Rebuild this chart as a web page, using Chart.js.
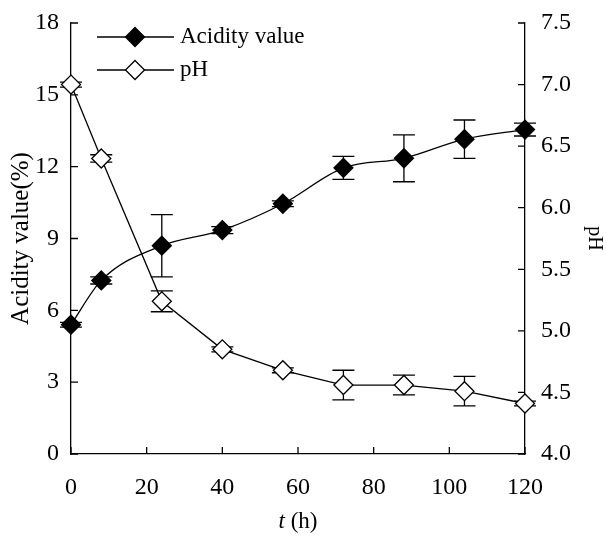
<!DOCTYPE html>
<html>
<head>
<meta charset="utf-8">
<script src="https://cdn.jsdelivr.net/npm/chart.js@4.4.0/dist/chart.umd.min.js"></script>
<style>
html, body { margin: 0; padding: 0; background: #fff; }
#wrap { width: 606px; height: 537px; }
</style>
</head>
<body>
<div id="wrap"><canvas id="chart"></canvas></div>
<script>
// acidity value and pH during fermentation

var hours      = [0, 8, 24, 40, 56, 72, 88, 104, 120];
var acidity    = [5.4, 7.25, 8.7, 9.35, 10.45, 11.95, 12.35, 13.15, 13.55];
var acidityErr = [0.1, 0.15, 1.3, 0.15, 0.12, 0.48, 0.98, 0.8, 0.27];
var ph         = [7.0, 6.4, 5.24, 4.85, 4.68, 4.56, 4.56, 4.51, 4.41];
var phErr      = [0.02, 0.03, 0.085, 0.02, 0.02, 0.12, 0.08, 0.12, 0.02];

var xTicks     = [0, 20, 40, 60, 80, 100, 120];
var leftTicks  = [0, 3, 6, 9, 12, 15, 18];
var rightTicks = [4.0, 4.5, 5.0, 5.5, 6.0, 6.5, 7.0, 7.5];

var FONT = '"Liberation Serif", "Times New Roman", serif';

function pts(ys) {
    return hours.map(function (h, i) { return { x: h, y: ys[i] }; });
}

// fixed axis sizes, no automatic label padding
function fixSize(w, h) {
    return function (s) {
        if (w) s.width = w;
        if (h) s.height = h;
        s.paddingTop = 0; s.paddingBottom = 0;
        s.paddingLeft = 0; s.paddingRight = 0;
    };
}

// ── error bars, drawn under the markers ───────────────────────────────────
var errorBars = {
    id: 'errorBars',
    beforeDatasetsDraw: function (chart) {
        var ctx = chart.ctx;
        var xs = chart.scales.x;
        var sets = [[acidity, acidityErr, chart.scales.y], [ph, phErr, chart.scales.y1]];
        ctx.save();
        ctx.strokeStyle = '#000';
        ctx.lineWidth = 1.3;
        sets.forEach(function (s) {
            hours.forEach(function (h, i) {
                var px = xs.getPixelForValue(h);
                var top = s[2].getPixelForValue(s[0][i] + s[1][i]);
                var bot = s[2].getPixelForValue(s[0][i] - s[1][i]);
                ctx.beginPath();
                ctx.moveTo(px, top); ctx.lineTo(px, bot);
                ctx.moveTo(px - 11, top); ctx.lineTo(px + 11, top);
                ctx.moveTo(px - 11, bot); ctx.lineTo(px + 11, bot);
                ctx.stroke();
            });
        });
        ctx.restore();
    }
};

// ── inward tick marks, legend and x title ─────────────────────────────────
var extras = {
    id: 'extras',
    afterDraw: function (chart) {
        var ctx = chart.ctx;
        var a = chart.chartArea;
        ctx.save();
        ctx.strokeStyle = '#000';
        ctx.lineWidth = 1.3;
        ctx.beginPath();
        xTicks.forEach(function (v) {
            var p = chart.scales.x.getPixelForValue(v);
            ctx.moveTo(p, a.bottom); ctx.lineTo(p, a.bottom - 7);
        });
        leftTicks.forEach(function (v) {
            var p = chart.scales.y.getPixelForValue(v);
            ctx.moveTo(a.left, p); ctx.lineTo(a.left + 7, p);
        });
        rightTicks.forEach(function (v) {
            var p = chart.scales.y1.getPixelForValue(v);
            ctx.moveTo(a.right, p); ctx.lineTo(a.right - 7, p);
        });
        ctx.stroke();

        // legend
        var items = [['Acidity value', '#000', 37], ['pH', '#fff', 70]];
        items.forEach(function (it) {
            var y = it[2];
            ctx.beginPath();
            ctx.moveTo(97, y); ctx.lineTo(174, y);
            ctx.stroke();
            ctx.beginPath();
            ctx.moveTo(135, y - 9.5); ctx.lineTo(144.5, y);
            ctx.lineTo(135, y + 9.5); ctx.lineTo(125.5, y);
            ctx.closePath();
            ctx.fillStyle = it[1];
            ctx.fill();
            ctx.stroke();
            ctx.fillStyle = '#000';
            ctx.font = '23px ' + FONT;
            ctx.textBaseline = 'middle';
            ctx.textAlign = 'left';
            ctx.fillText(it[0], 180, y);
        });

        // x title: italic t
        ctx.textBaseline = 'middle';
        ctx.textAlign = 'left';
        ctx.font = 'italic 23px ' + FONT;
        var w1 = ctx.measureText('t').width;
        ctx.font = '23px ' + FONT;
        var w2 = ctx.measureText(' (h)').width;
        var cx = (a.left + a.right) / 2;
        var x0 = cx - (w1 + w2) / 2;
        ctx.font = 'italic 23px ' + FONT;
        ctx.fillText('t', x0, 522);
        ctx.font = '23px ' + FONT;
        ctx.fillText(' (h)', x0 + w1, 522);
        ctx.restore();
    }
};

new Chart(document.getElementById('chart'), {
    type: 'line',
    data: {
        datasets: [{
            label: 'Acidity value',
            data: pts(acidity),
            yAxisID: 'y',
            borderColor: '#000',
            borderWidth: 1.3,
            backgroundColor: '#000',
            pointStyle: 'rectRot',
            pointRadius: 9.5,
            pointBorderColor: '#000',
            pointBackgroundColor: '#000',
            pointBorderWidth: 1.3,
            cubicInterpolationMode: 'monotone',
            clip: false
        }, {
            label: 'pH',
            data: pts(ph),
            yAxisID: 'y1',
            borderColor: '#000',
            borderWidth: 1.3,
            backgroundColor: '#fff',
            pointStyle: 'rectRot',
            pointRadius: 9.5,
            pointBorderColor: '#000',
            pointBackgroundColor: '#fff',
            pointBorderWidth: 1.3,
            tension: 0,
            clip: false
        }]
    },
    options: {
        responsive: true,
        maintainAspectRatio: false,
        animation: false,
        layout: { padding: { top: 23, right: 0, left: 0, bottom: 0 } },
        plugins: { legend: { display: false }, tooltip: { enabled: false } },
        scales: {
            x: {
                type: 'linear',
                min: 0, max: 120,
                afterFit: fixSize(0, 83),
                afterBuildTicks: function (s) { s.ticks = xTicks.map(function (v) { return { value: v }; }); },
                grid: { display: false, drawTicks: false },
                border: { display: true, color: '#000', width: 1.3 },
                ticks: { color: '#000', padding: 19, maxRotation: 0, font: { family: FONT, size: 24 } }
            },
            y: {
                position: 'left',
                min: 0, max: 18,
                afterFit: fixSize(71, 0),
                afterBuildTicks: function (s) { s.ticks = leftTicks.map(function (v) { return { value: v }; }); },
                grid: { display: false, drawTicks: false },
                border: { display: true, color: '#000', width: 1.3 },
                ticks: { color: '#000', padding: 12, font: { family: FONT, size: 24 } },
                title: { display: true, text: 'Acidity value(%)', color: '#000', padding: { top: 6, bottom: 0 }, font: { family: FONT, size: 25 } }
            },
            y1: {
                position: 'right',
                min: 4, max: 7.5,
                afterFit: fixSize(81, 0),
                afterBuildTicks: function (s) { s.ticks = rightTicks.map(function (v) { return { value: v }; }); },
                grid: { display: false, drawTicks: false },
                border: { display: true, color: '#000', width: 1.3 },
                ticks: {
                    color: '#000', padding: 16, font: { family: FONT, size: 24 },
                    callback: function (v) { return Number(v).toFixed(1); }
                },
                title: { display: true, text: 'pH', color: '#000', padding: { top: 0, bottom: 0 }, font: { family: FONT, size: 20 } }
            }
        }
    },
    plugins: [errorBars, extras]
});
</script>
</body>
</html>
